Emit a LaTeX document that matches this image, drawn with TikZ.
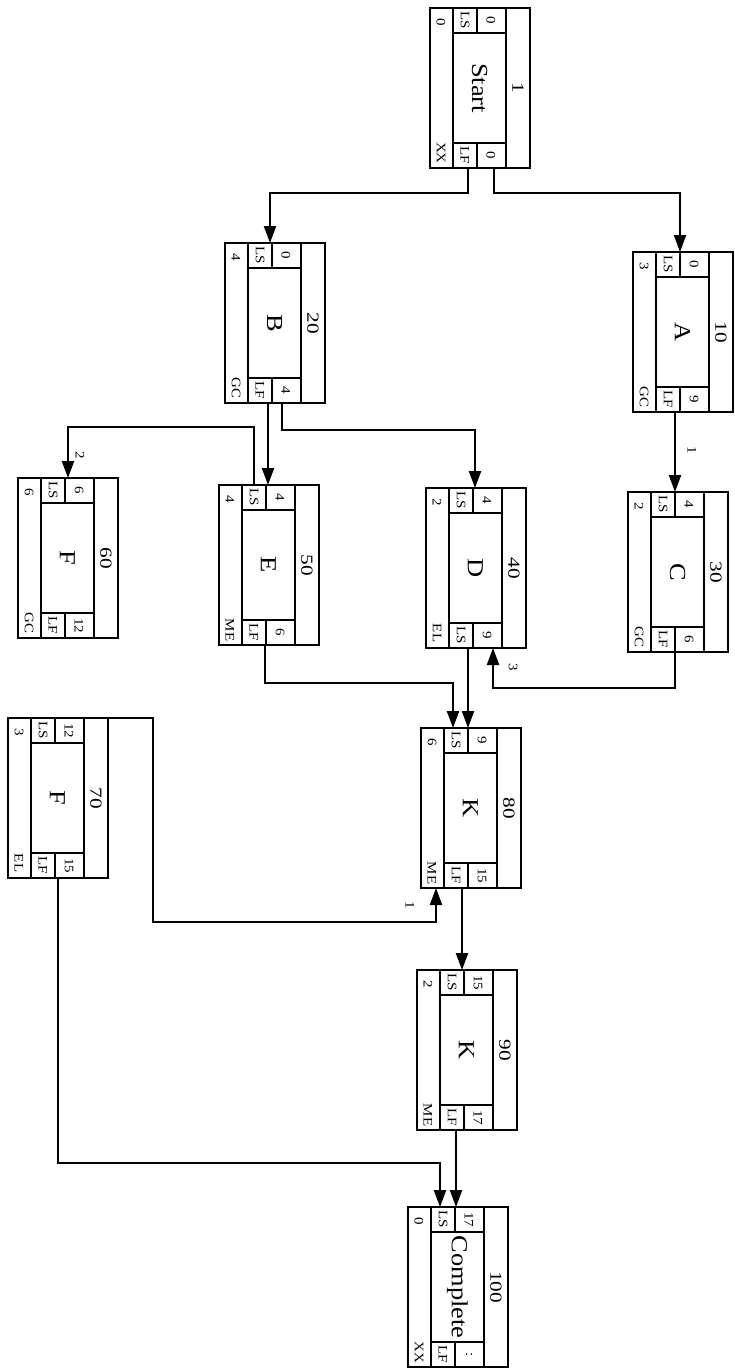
\documentclass[tikz,border=0pt]{standalone}
\usepackage{fontspec}
\setmainfont{Liberation Serif}
\usetikzlibrary{arrows.meta}
\tikzset{
  taskbox/.style={draw, line width=2.6pt, rectangle, minimum width=100pt, minimum height=160pt, anchor=north west, inner sep=0pt, outer sep=0pt},
  cell/.style={line width=1.1pt},
  celltext/.style={font=\fontsize{13}{13}\selectfont, rotate=-90, xscale=1.15, inner sep=0pt},
  idtext/.style={font=\fontsize{17}{17}\selectfont, rotate=-90, xscale=1.25, inner sep=0pt},
  taskname/.style={font=\fontsize{23}{23}\selectfont, rotate=-90, xscale=1.15, inner sep=0pt},
  link/.style={line width=2.2pt},
}
\newcommand{\activity}[9]{%
  \node[taskbox] (#1) at #2 {};
  \draw[cell] ([xshift=23pt]#1.north west) -- ([xshift=23pt]#1.south west);
  \draw[cell] ([xshift=76pt]#1.north west) -- ([xshift=76pt]#1.south west);
  \draw[cell] ([shift={(23pt,-25pt)}]#1.north west) -- ([shift={(76pt,-25pt)}]#1.north west);
  \draw[cell] ([shift={(23pt,25pt)}]#1.south west) -- ([shift={(76pt,25pt)}]#1.south west);
  \draw[cell] ([xshift=47pt]#1.north west) -- ([shift={(47pt,-25pt)}]#1.north west);
  \draw[cell] ([xshift=47pt]#1.south west) -- ([shift={(47pt,25pt)}]#1.south west);
  \node[idtext] (#1-id) at ([xshift=-12pt]#1.east) {#3};
  \node[taskname] (#1-name) at ([xshift=-0.5pt]#1.center) {#4};
  \node[celltext] (#1-es) at ([shift={(11pt,-14pt)}]#1.north west) {#5};
  \node[celltext] (#1-code) at ([shift={(11pt,15pt)}]#1.south west) {#6};
  \node[celltext] (#1-ls) at ([shift={(35pt,-12.5pt)}]#1.north west) {LS};
  \node[celltext] (#1-lsv) at ([shift={(61pt,-12.5pt)}]#1.north west) {#7};
  \node[celltext] (#1-lf) at ([shift={(35pt,12.5pt)}]#1.south west) {#8};
  \node[celltext] (#1-lfv) at ([shift={(61pt,12.5pt)}]#1.south west) {#9};
}

\begin{document}
\begin{tikzpicture}[x=1pt,y=-1pt,>={Triangle[length=17pt,width=12pt]}]
\useasboundingbox (0,0) rectangle (734,1370);

\activity{start}{(430,8)}{1}{Start}{0}{XX}{0}{LF}{0}
\activity{a}{(633,252)}{10}{A}{3}{GC}{0}{LF}{9}
\activity{c}{(628,492)}{30}{C}{2}{GC}{4}{LF}{6}
\activity{b}{(225,243)}{20}{B}{4}{GC}{0}{LF}{4}
\activity{d}{(426,488)}{40}{D}{2}{EL}{4}{LS}{9}
\activity{e}{(219,485)}{50}{E}{4}{ME}{4}{LF}{6}
\activity{f60}{(18,478)}{60}{F}{6}{GC}{6}{LF}{12}
\activity{f70}{(8,718)}{70}{F}{3}{EL}{12}{LF}{15}
\activity{k80}{(421,728)}{80}{K}{6}{ME}{9}{LF}{15}
\activity{k90}{(417,970)}{90}{K}{2}{ME}{15}{LF}{17}
\activity{done}{(408,1207)}{100}{Complete}{0}{XX}{17}{LF}{:}

\draw[link,->] ([xshift=38pt]start.south west) -- ++(0,25) -| ([xshift=45pt]b.north west);
\draw[link,->] ([xshift=64pt]start.south west) -- ++(0,25) -| ([xshift=47pt]a.north west);
\draw[link,->] ([xshift=42pt]a.south west) -- ([xshift=47pt]c.north west);
\draw[link,->] ([xshift=43pt]b.south west) -- ([xshift=49pt]e.north west);
\draw[link,->] ([xshift=57pt]b.south west) -- ++(0,27) -| ([xshift=49pt]d.north west);
\draw[link,->] ([xshift=35pt]e.north west) -- ++(0,-58) -| ([xshift=50pt]f60.north west);
\draw[link,->] ([xshift=47pt]c.south west) -- ++(0,36) -| ([xshift=67pt]d.south west);
\draw[link,->] ([xshift=42pt]d.south west) -- ([xshift=47pt]k80.north west);
\draw[link,->] ([xshift=46pt]e.south west) -- ++(0,38) -| ([xshift=32pt]k80.north west);
\draw[link,->] (f70.north east) -- ++(45,0) -- ++(0,204) -| ([xshift=15pt]k80.south west);
\draw[link,->] ([xshift=41pt]k80.south west) -- ([xshift=45pt]k90.north west);
\draw[link,->] ([xshift=50pt]f70.south west) -- ++(0,285) -| ([xshift=32pt]done.north west);
\draw[link,->] ([xshift=39pt]k90.south west) -- ([xshift=48pt]done.north west);

\node[celltext] (lag-ac) at (692,450) {1};
\node[celltext] (lag-cd) at (513,667) {3};
\node[celltext] (lag-ef) at (80,455) {2};
\node[celltext] (lag-fk) at (410,905) {1};
\end{tikzpicture}
\end{document}
